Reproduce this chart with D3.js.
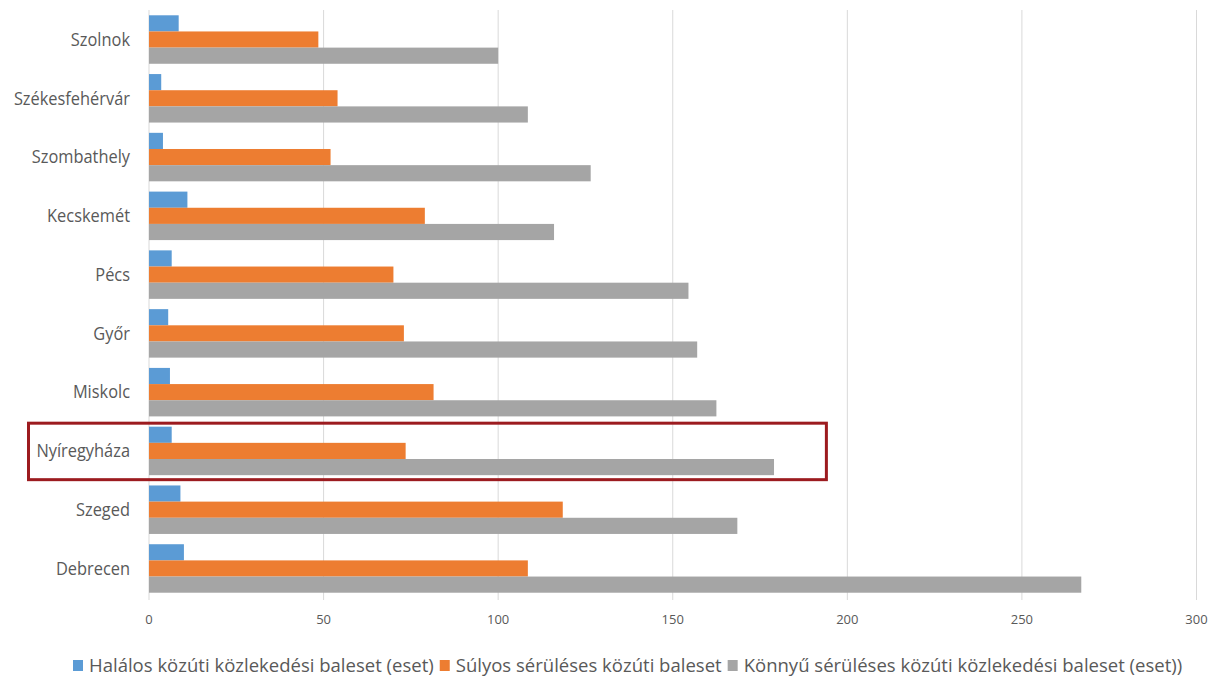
<!DOCTYPE html>
<html>
<head>
<meta charset="utf-8">
<script src="https://cdn.jsdelivr.net/npm/d3@7"></script>
<style>
  body { margin: 0; background: #fff; }
  text { font-family: "Open Sans", "Noto Sans", sans-serif; fill: #595959; }
</style>
</head>
<body>
<div id="chart"></div>
<script>
// chart data
var cities = ["Szolnok", "Székesfehérvár", "Szombathely", "Kecskemét", "Pécs", "Győr", "Miskolc", "Nyíregyháza", "Szeged", "Debrecen"];
var halalos = [8.5, 3.5, 4, 11, 6.5, 5.5, 6, 6.5, 9, 10];
var sulyos = [48.5, 54, 52, 79, 70, 73, 81.5, 73.5, 118.5, 108.5];
var konnyu = [100, 108.5, 126.5, 116, 154.5, 157, 162.5, 179, 168.5, 267];
var seriesNames = ["Halálos közúti közlekedési baleset (eset)", "Súlyos sérüléses közúti baleset", "Könnyű sérüléses közúti közlekedési baleset (eset))"];
var xTicks = [0, 50, 100, 150, 200, 250, 300];
var highlighted = "Nyíregyháza";

var svgWidth = 1216;
var svgHeight = 677;
var colors = ["#5b9bd5", "#ed7d31", "#a5a5a5"];

// squeeze text a bit so it looks like the narrow office font
function condense(sel, k) {
  sel.each(function() {
    var w = this.getComputedTextLength();
    d3.select(this)
      .attr("textLength", w * k)
      .attr("lengthAdjust", "spacingAndGlyphs");
  });
}

var svg = d3.select("#chart")
  .append("svg")
  .attr("width", svgWidth)
  .attr("height", svgHeight);

// scales
var x = d3.scaleLinear()
  .domain([0, 300])
  .range([149, 1196.5]);

var y = d3.scaleBand()
  .domain(cities)
  .range([10, 598])
  .paddingInner(0.175)
  .paddingOuter(0.09);

var seriesIdx = d3.scaleBand()
  .domain([0, 1, 2])
  .range([0, y.bandwidth()]);

// gridlines
svg.append("g")
  .selectAll("line")
  .data(xTicks)
  .enter()
  .append("line")
  .attr("x1", d => x(d))
  .attr("x2", d => x(d))
  .attr("y1", 10)
  .attr("y2", 600)
  .attr("stroke", "#d9d9d9")
  .attr("stroke-width", 1);

// x tick labels
svg.append("g")
  .selectAll("text")
  .data(xTicks)
  .enter()
  .append("text")
  .attr("x", d => x(d))
  .attr("y", 624)
  .attr("text-anchor", "middle")
  .style("font-size", "13px")
  .text(d => d);

// bars
var rows = cities.map(function(c, i) {
  return { city: c, vals: [halalos[i], sulyos[i], konnyu[i]] };
});

var groups = svg.append("g")
  .selectAll("g")
  .data(rows)
  .enter()
  .append("g")
  .attr("transform", d => `translate(0, ${y(d.city)})`);

groups.selectAll("rect")
  .data(d => d.vals)
  .enter()
  .append("rect")
  .attr("x", x(0))
  .attr("y", (d, i) => seriesIdx(i))
  .attr("width", d => x(d) - x(0))
  .attr("height", seriesIdx.bandwidth())
  .attr("fill", (d, i) => colors[i]);

// category labels
var catLabels = svg.append("g")
  .selectAll("text")
  .data(cities)
  .enter()
  .append("text")
  .attr("x", 130)
  .attr("y", d => y(d) + y.bandwidth() / 2)
  .attr("dy", "0.35em")
  .attr("text-anchor", "end")
  .style("font-size", "18px")
  .text(d => d);
condense(catLabels, 0.91);

// highlight box
svg.append("rect")
  .attr("x", 28.5)
  .attr("y", y(highlighted) - 3.5)
  .attr("width", x(194) - 28.5)
  .attr("height", y.bandwidth() + 8)
  .attr("fill", "none")
  .attr("stroke", "#9c1b1f")
  .attr("stroke-width", 3);

// legend
var legend = svg.append("g");
var lx = 73;
seriesNames.forEach(function(name, i) {
  legend.append("rect")
    .attr("x", lx)
    .attr("y", 660)
    .attr("width", 10)
    .attr("height", 11)
    .attr("fill", colors[i]);
  var t = legend.append("text")
    .attr("x", lx + 16)
    .attr("y", 671.5)
    .style("font-size", "19px")
    .text(name);
  condense(t, 0.975);
  lx += 16 + +t.attr("textLength") + 6;
});
</script>
</body>
</html>
